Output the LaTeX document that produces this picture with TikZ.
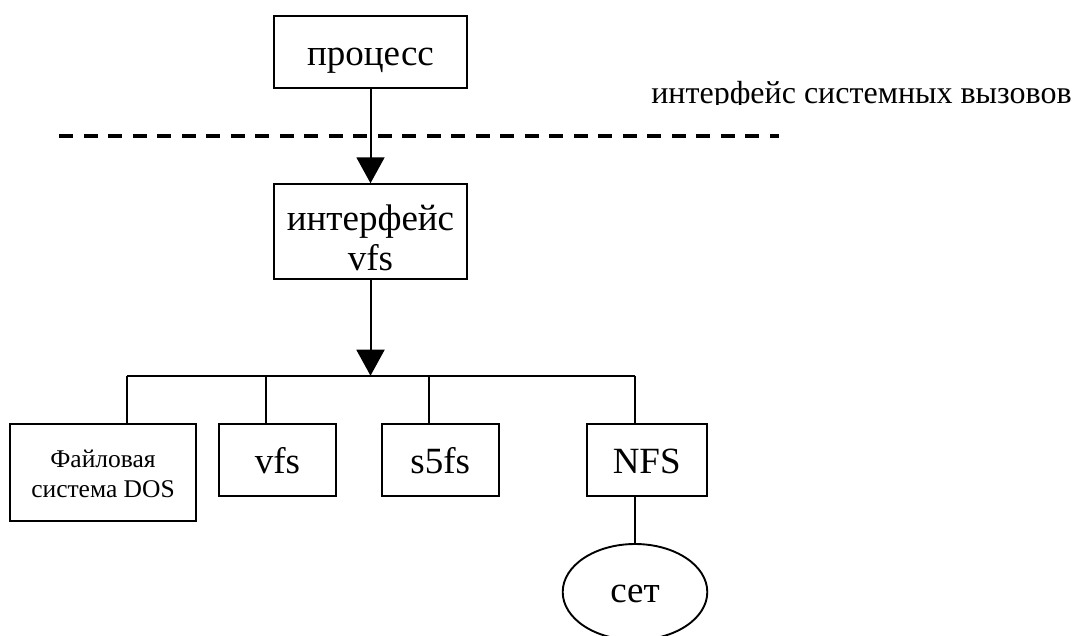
\documentclass[tikz,border=0pt]{standalone}
\usepackage{fontspec}
\setmainfont{Liberation Serif}
\usetikzlibrary{arrows.meta,shapes.geometric}
\begin{document}
\begin{tikzpicture}[x=1pt,y=-1pt,
  box/.style={draw,line width=1.9pt,inner sep=0pt,align=center},
  bigtext/.style={font=\fontsize{37}{40}\selectfont,inner sep=0pt,anchor=base},
  smalltext/.style={font=\fontsize{25.5}{30}\selectfont,inner sep=0pt,anchor=base},
  link/.style={line width=1.9pt},
  arrowlink/.style={line width=2pt,-{Triangle[width=28pt,length=26pt]}},
  boundary/.style={line width=3.5pt,dash pattern=on 14pt off 10.5pt}]
\useasboundingbox (0,0) rectangle (1076,635);

% process and system-call boundary
\node[box,minimum width=193pt,minimum height=72pt] (proc) at (370.5,51.7) {};
\node[bigtext] (proctext) at (370.5,65) {процесс};
\coordinate (dl) at (59.3,136);
\coordinate (dr) at (779,136);
\draw[boundary] (dl) -- (dr);
\begin{scope}
  \clip (600,60) rectangle (1076,104.5);
  \node[font=\fontsize{32}{36}\selectfont,anchor=base,inner sep=0pt] (sysif) at (861.5,103.3) {интерфейс системных вызовов};
\end{scope}

% vfs interface
\node[box,minimum width=193pt,minimum height=95pt] (vfsif) at (370.5,231.7) {};
\node[bigtext] (vfsif1) at (370.5,230) {интерфейс};
\node[bigtext] (vfsif2) at (370.5,270) {vfs};
\draw[arrowlink] (proc.south) -- (vfsif.north);

% bus to the file systems
\coordinate (bus) at (370.5,375.7);
\coordinate (t1) at (126.7,375.7);
\coordinate (t2) at (266,375.7);
\coordinate (t3) at (428.7,375.7);
\coordinate (t4) at (635,375.7);
\draw[arrowlink] (vfsif.south) -- (bus);
\draw[link] (t1) -- (t4);

% file systems
\node[box,minimum width=186pt,minimum height=97pt] (dos) at (103,472.5) {};
\node[smalltext] (dos1) at (103,467) {Файловая};
\node[smalltext] (dos2) at (103,497) {система DOS};
\node[box,minimum width=116.4pt,minimum height=72pt] (vfs) at (277.5,460) {};
\node[bigtext] (vfstext) at (277.5,473) {vfs};
\node[box,minimum width=117pt,minimum height=72pt] (s5fs) at (440.2,460) {};
\node[bigtext] (s5fstext) at (440.2,473) {s5fs};
\node[box,minimum width=120pt,minimum height=72pt] (nfs) at (646.7,460) {};
\node[bigtext] (nfstext) at (646.7,473) {NFS};
\draw[link] (t1) -- (t1 |- dos.north);
\draw[link] (t2) -- (t2 |- vfs.north);
\draw[link] (t3) -- (t3 |- s5fs.north);
\draw[link] (t4) -- (t4 |- nfs.north);

% network
\node[draw,ellipse,line width=1.9pt,inner sep=0pt,minimum width=144.6pt,minimum height=96pt] (net) at (635,592) {};
\node[bigtext] (nettext) at (635,602) {сет};
\draw[link] (net.north |- nfs.south) -- (net.north);
\end{tikzpicture}
\end{document}
